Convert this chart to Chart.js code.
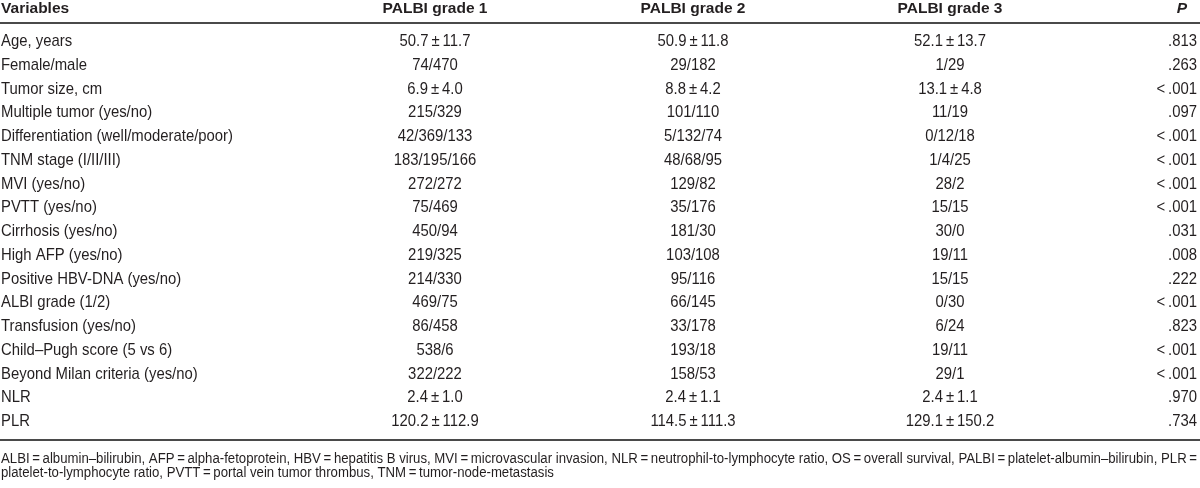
<!DOCTYPE html>
<html>
<head>
<meta charset="utf-8">
<script src="https://cdn.jsdelivr.net/npm/chart.js@4/dist/chart.umd.min.js"></script>
<style>
  body { margin: 0; background: #fff; }
  canvas { display: block; }
</style>
</head>
<body>
<canvas id="table" width="1200" height="488"></canvas>
<script>
const headers = ['Variables', 'PALBI grade 1', 'PALBI grade 2', 'PALBI grade 3', 'P'];

const variables = [
  'Age, years', 'Female/male', 'Tumor size, cm', 'Multiple tumor (yes/no)',
  'Differentiation (well/moderate/poor)', 'TNM stage (I/II/III)', 'MVI (yes/no)',
  'PVTT (yes/no)', 'Cirrhosis (yes/no)', 'High AFP (yes/no)', 'Positive HBV-DNA (yes/no)',
  'ALBI grade (1/2)', 'Transfusion (yes/no)', 'Child\u2013Pugh score (5 vs 6)',
  'Beyond Milan criteria (yes/no)', 'NLR', 'PLR'
];

const grade1 = [
  '50.7\u2009\u00b1\u200911.7', '74/470', '6.9\u2009\u00b1\u20094.0', '215/329', '42/369/133',
  '183/195/166', '272/272', '75/469', '450/94', '219/325', '214/330', '469/75',
  '86/458', '538/6', '322/222', '2.4\u2009\u00b1\u20091.0', '120.2\u2009\u00b1\u2009112.9'
];

const grade2 = [
  '50.9\u2009\u00b1\u200911.8', '29/182', '8.8\u2009\u00b1\u20094.2', '101/110', '5/132/74',
  '48/68/95', '129/82', '35/176', '181/30', '103/108', '95/116', '66/145',
  '33/178', '193/18', '158/53', '2.4\u2009\u00b1\u20091.1', '114.5\u2009\u00b1\u2009111.3'
];

const grade3 = [
  '52.1\u2009\u00b1\u200913.7', '1/29', '13.1\u2009\u00b1\u20094.8', '11/19', '0/12/18',
  '1/4/25', '28/2', '15/15', '30/0', '19/11', '15/15', '0/30',
  '6/24', '19/11', '29/1', '2.4\u2009\u00b1\u20091.1', '129.1\u2009\u00b1\u2009150.2'
];

const pValues = [
  '.813', '.263', '<\u2009.001', '.097', '<\u2009.001', '<\u2009.001', '<\u2009.001',
  '<\u2009.001', '.031', '.008', '.222', '<\u2009.001', '.823', '<\u2009.001',
  '<\u2009.001', '.970', '.734'
];

const footnoteLines = [
  'ALBI\u2009=\u2009albumin\u2013bilirubin, AFP\u2009=\u2009alpha-fetoprotein, HBV\u2009=\u2009hepatitis B virus, MVI\u2009=\u2009microvascular invasion, NLR\u2009=\u2009neutrophil-to-lymphocyte ratio, OS\u2009=\u2009overall survival, PALBI\u2009=\u2009platelet-albumin\u2013bilirubin, PLR\u2009=',
  'platelet-to-lymphocyte ratio, PVTT\u2009=\u2009portal vein tumor thrombus, TNM\u2009=\u2009tumor-node-metastasis'
];

// layout (scale units; rows are text baselines)
const columns = [
  { x: 1, align: 'left', values: variables },
  { x: 435, align: 'center', values: grade1 },
  { x: 693, align: 'center', values: grade2 },
  { x: 950, align: 'center', values: grade3 },
  { x: 1197, align: 'right', values: pValues }
];
const headerRow = -0.38;
const headerRule = 0.03;
const bottomRule = 17.59;
const footRows = [18.56, 19.15];

const FONT = '"Liberation Sans", Arial, sans-serif';
const INK = '#231f20';

// condensed look: squeeze text horizontally
function squeezeText(ctx, text, x, y, align, sx) {
  ctx.save();
  ctx.translate(x, y);
  ctx.scale(sx, 1);
  ctx.textAlign = align;
  ctx.fillText(text, 0, 0);
  ctx.restore();
}

const tableText = {
  id: 'tableText',
  afterDatasetsDraw(chart) {
    const ctx = chart.ctx;
    const xs = chart.scales.x, ys = chart.scales.y;
    ctx.save();
    ctx.fillStyle = INK;
    ctx.textBaseline = 'alphabetic';

    // header
    ctx.font = 'bold 15px ' + FONT;
    const hsx = 105 / ctx.measureText(headers[1]).width;
    headers.forEach((h, i) => {
      const col = columns[i];
      ctx.font = (i === 4 ? 'italic bold ' : 'bold ') + '15px ' + FONT;
      squeezeText(ctx, h, xs.getPixelForValue(col.x) - (i === 4 ? 10 : 0),
        ys.getPixelForValue(headerRow), col.align, hsx);
    });

    // body cells, from the dataset points
    ctx.font = '17px ' + FONT;
    const bsx = 232 / ctx.measureText(variables[4]).width;
    chart.data.datasets.forEach((ds, i) => {
      const meta = chart.getDatasetMeta(i);
      meta.data.forEach((pt, j) => squeezeText(ctx, ds.texts[j], pt.x, pt.y, columns[i].align, bsx));
    });

    // rules
    ctx.strokeStyle = '#4a4a4a';
    ctx.lineWidth = 2;
    [headerRule, bottomRule].forEach(r => {
      const y = Math.round(ys.getPixelForValue(r));
      ctx.beginPath();
      ctx.moveTo(xs.left, y);
      ctx.lineTo(xs.right, y);
      ctx.stroke();
    });

    // footnote
    ctx.font = '14px ' + FONT;
    const fsx = 1196 / ctx.measureText(footnoteLines[0]).width;
    footnoteLines.forEach((t, i) => {
      squeezeText(ctx, t, xs.getPixelForValue(1), ys.getPixelForValue(footRows[i]), 'left', fsx);
    });
    ctx.restore();
  }
};

new Chart(document.getElementById('table'), {
  type: 'scatter',
  data: {
    datasets: columns.map(col => ({
      data: col.values.map((_, j) => ({ x: col.x, y: j + 1 })),
      texts: col.values,
      pointRadius: 0
    }))
  },
  options: {
    responsive: false,
    animation: false,
    layout: { padding: 0 },
    scales: {
      x: { type: 'linear', min: 0, max: 1200, display: false },
      y: { type: 'linear', min: -0.937, max: 19.61, reverse: true, display: false }
    },
    plugins: { legend: { display: false }, tooltip: { enabled: false } }
  },
  plugins: [tableText]
});
</script>
</body>
</html>
